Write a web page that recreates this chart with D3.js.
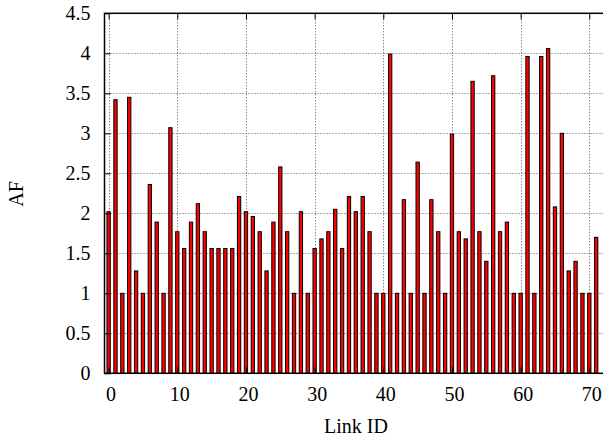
<!DOCTYPE html>
<html>
<head>
<meta charset="utf-8">
<script src="https://cdn.jsdelivr.net/npm/d3@7"></script>
<style>
  html, body { margin: 0; padding: 0; background: #fff; }
  svg { display: block; }
  text { font-family: "Liberation Serif", "DejaVu Serif", serif; fill: #000; }
</style>
</head>
<body>
<svg id="chart" width="603" height="440"></svg>
<script>
const linkIds = d3.range(0, 72);
const afValues = [
  2.02, 3.42, 1.00, 3.45, 1.28, 1.00, 2.36, 1.89, 1.00, 3.07,
  1.77, 1.56, 1.89, 2.12, 1.77, 1.56, 1.56, 1.56, 1.56, 2.21,
  2.02, 1.96, 1.77, 1.28, 1.89, 2.58, 1.77, 1.00, 2.02, 1.00,
  1.56, 1.68, 1.77, 2.05, 1.56, 2.21, 2.02, 2.21, 1.77, 1.00,
  1.00, 3.99, 1.00, 2.17, 1.00, 2.64, 1.00, 2.17, 1.77, 1.00,
  2.99, 1.77, 1.68, 3.65, 1.77, 1.40, 3.72, 1.77, 1.89, 1.00,
  1.00, 3.96, 1.00, 3.96, 4.06, 2.08, 3.00, 1.28, 1.40, 1.00,
  1.00, 1.70
];
const xTicks = [0, 10, 20, 30, 40, 50, 60, 70];
const yTicks = [0, 0.5, 1, 1.5, 2, 2.5, 3, 3.5, 4, 4.5];
const xLabel = "Link ID";
const yLabel = "AF";

const svg = d3.select("#chart");
const pLeft = 104.5, pTop = 13.3, pBottom = 373.3;
const x = d3.scaleLinear().domain([-0.6, 72.5]).range([pLeft, pLeft + 73.1 * 6.867]);
const y = d3.scaleLinear().domain([0, 4.5]).range([pBottom, pTop]);
const pRight = x.range()[1];
const fs = "20px";

// grid
const grid = svg.append("g");
grid.selectAll("line.gy").data(yTicks.filter(d => d > 0 && d < 4.5)).enter().append("line")
  .attr("x1", pLeft).attr("x2", pRight)
  .attr("y1", d => Math.round(y(d)) + 0.5).attr("y2", d => Math.round(y(d)) + 0.5)
  .attr("stroke", "#555").attr("stroke-width", 1).attr("stroke-dasharray", "1,2");
grid.selectAll("line.gx").data(xTicks).enter().append("line")
  .attr("x1", d => Math.round(x(d)) + 0.5).attr("x2", d => Math.round(x(d)) + 0.5)
  .attr("y1", pTop).attr("y2", pBottom)
  .attr("stroke", "#555").attr("stroke-width", 1).attr("stroke-dasharray", "1,2");

// bars
const bw = 3.3;
svg.append("g").selectAll("rect").data(linkIds).enter().append("rect")
  .attr("x", i => x(i) - bw / 2)
  .attr("y", i => y(afValues[i]))
  .attr("width", bw)
  .attr("height", i => y(0) - y(afValues[i]))
  .attr("fill", "#ff0000")
  .attr("stroke", "#000")
  .attr("stroke-width", 1);

// axes (ticks inward, gnuplot style)
const yAxis = d3.axisLeft(y).tickValues(yTicks).tickSizeInner(-6).tickSizeOuter(0)
  .tickFormat(d => String(d)).tickPadding(14);
const gy = svg.append("g").attr("transform", `translate(${pLeft},0)`).call(yAxis);
gy.select(".domain").remove();
gy.selectAll("line").attr("stroke", "#000");
gy.selectAll("text").style("font-size", fs).attr("font-family", "Liberation Serif");

const xAxis = d3.axisBottom(x).tickValues(xTicks).tickSizeInner(-6).tickSizeOuter(0)
  .tickFormat(d3.format("d")).tickPadding(14);
const gx = svg.append("g").attr("transform", `translate(0,${pBottom})`).call(xAxis);
gx.select(".domain").remove();
gx.selectAll("line").attr("stroke", "#000");
gx.selectAll("text").style("font-size", fs).attr("font-family", "Liberation Serif")
  .attr("dx", 2);

// mirrored ticks on top
const xTop = d3.axisTop(x).tickValues(xTicks).tickSizeInner(-6).tickSizeOuter(0).tickFormat("");
const gxt = svg.append("g").attr("transform", `translate(0,${pTop})`).call(xTop);
gxt.select(".domain").remove();
gxt.selectAll("line").attr("stroke", "#000");

// border
svg.append("rect").attr("x", pLeft).attr("y", pTop)
  .attr("width", pRight - pLeft).attr("height", pBottom - pTop)
  .attr("fill", "none").attr("stroke", "#000").attr("stroke-width", 1.5);

// labels
svg.append("text").attr("x", 356).attr("y", 433).attr("text-anchor", "middle")
  .style("font-size", fs).text(xLabel);
svg.append("text").attr("transform", "translate(23,194) rotate(-90)")
  .attr("text-anchor", "middle").style("font-size", fs).text(yLabel);
</script>
</body>
</html>
